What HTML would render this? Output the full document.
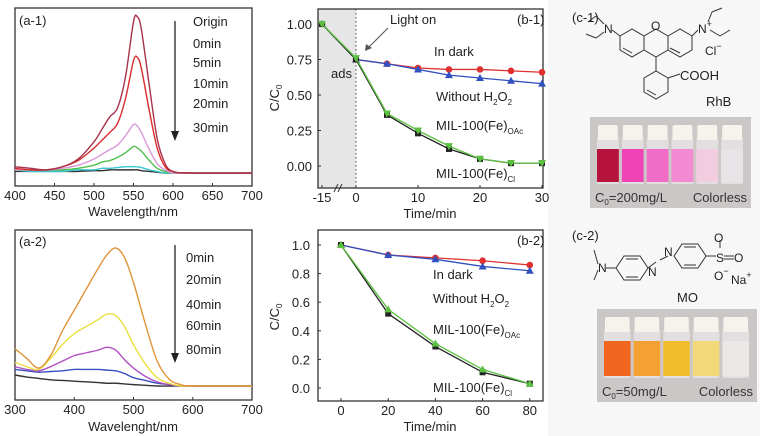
<!DOCTYPE html>
<html><head><meta charset="utf-8">
<style>
body{margin:0;background:#fff;}
svg{display:block;font-family:"Liberation Sans",Arial,sans-serif;}
</style></head>
<body>
<svg id="fig" width="770" height="436" viewBox="0 0 770 436" xmlns="http://www.w3.org/2000/svg">
<rect x="0" y="0" width="770" height="436" fill="#fff"/>
<rect x="548" y="0" width="212" height="436" fill="#f7f7f7"/>
<g id="a1"></g>
<g id="a2"></g>
<g id="b1"></g>
<g id="b2"></g>

<!-- c-1 RhB structure -->
<g fill="none" stroke="#333" stroke-width="1">
  <polygon points="620,36 632,29 644,36 644,50 632,57 620,50"/>
  <polygon points="644,36 656,29 668,36 668,50 656,57 644,50"/>
  <polygon points="668,36 680,29 692,36 692,50 680,57 668,50"/>
  <line x1="623" y1="48" x2="632" y2="53"/><line x1="670" y1="48" x2="680" y2="53"/>
  <line x1="656" y1="57" x2="656" y2="71"/>
  <polygon points="644,78 656,71 668,78 668,92 656,99 644,92"/>
  <line x1="647" y1="90" x2="656" y2="95"/>
  <line x1="668" y1="78" x2="680" y2="74"/>
  <line x1="620" y1="36" x2="612" y2="30"/>
  <line x1="604" y1="24" x2="596" y2="16"/><line x1="596" y1="16" x2="588" y2="22"/>
  <line x1="604" y1="32" x2="596" y2="38"/><line x1="596" y1="38" x2="586" y2="34"/>
  <line x1="692" y1="36" x2="698" y2="30"/>
  <line x1="708" y1="22" x2="712" y2="12"/><line x1="712" y1="12" x2="722" y2="8"/>
  <line x1="710" y1="30" x2="720" y2="36"/><line x1="720" y1="36" x2="730" y2="30"/>
</g>
<text x="572" y="22" font-size="13" fill="#222">(c-1)</text>
<text x="604" y="33" font-size="12" fill="#222">N</text>
<text x="651" y="30" font-size="12" fill="#222">O</text>
<text x="698" y="33" font-size="12" fill="#222">N<tspan font-size="9" dy="-6">+</tspan></text>
<text x="705" y="55" font-size="12" fill="#222">Cl<tspan font-size="9" dy="-6">−</tspan></text>
<text x="680" y="80" font-size="13" fill="#222">COOH</text>
<text x="706" y="106" font-size="13" fill="#222">RhB</text>
<g id="photo1"></g>

<!-- c-2 MO structure -->
<text x="572" y="240" font-size="13" fill="#222">(c-2)</text>
<g fill="none" stroke="#333" stroke-width="1">
  <line x1="594" y1="250" x2="598" y2="264"/><line x1="594" y1="280" x2="598" y2="270"/>
  <line x1="606" y1="268" x2="616" y2="268"/>
  <polygon points="616,268 624,256 640,256 648,268 640,280 624,280"/>
  <line x1="626" y1="259" x2="638" y2="259"/><line x1="626" y1="277" x2="638" y2="277"/>
  <line x1="648" y1="268" x2="656" y2="262"/>
  <line x1="660" y1="260" x2="668" y2="256"/>
  <polygon points="674,256 682,244 698,244 706,256 698,268 682,268"/>
  <line x1="684" y1="247" x2="696" y2="247"/><line x1="684" y1="265" x2="696" y2="265"/>
  <line x1="706" y1="256" x2="716" y2="256"/>
  <line x1="724" y1="256" x2="734" y2="256"/><line x1="724" y1="259" x2="734" y2="259"/>
  <line x1="720" y1="248" x2="720" y2="240"/>
</g>
<text x="598" y="272" font-size="12" fill="#222">N</text>
<text x="648" y="276" font-size="12" fill="#222">N</text>
<text x="664" y="256" font-size="12" fill="#222">N</text>
<text x="716" y="262" font-size="12" fill="#222">S</text>
<text x="714" y="242" font-size="12" fill="#222">O</text>
<text x="734" y="262" font-size="12" fill="#222">O</text>
<text x="714" y="280" font-size="12" fill="#222">O<tspan font-size="9" dy="-6">−</tspan></text>
<text x="731" y="284" font-size="12" fill="#222">Na<tspan font-size="9" dy="-6">+</tspan></text>
<text x="677" y="302" font-size="13" fill="#222">MO</text>
<g id="photo2"></g>
</svg>
<script>
// ===== data =====
const a1Wl = [400,420,440,460,480,500,510,520,530,540,550,555,560,570,580,590,600,620,700];
const a1Origin = [0.04,0.03,0.02,0.04,0.09,0.20,0.28,0.36,0.42,0.62,0.97,1.00,0.92,0.56,0.22,0.06,0.01,0,0];
const a1_0min = [0.03,0.02,0.02,0.04,0.08,0.16,0.21,0.26,0.32,0.48,0.72,0.74,0.67,0.40,0.16,0.04,0.01,0,0];
const a1_5min = [0.02,0.02,0.02,0.03,0.05,0.09,0.12,0.15,0.18,0.24,0.31,0.30,0.26,0.15,0.06,0.02,0,0,0];
const a1_10min = [0.02,0.02,0.02,0.02,0.03,0.05,0.07,0.08,0.10,0.13,0.17,0.16,0.14,0.08,0.03,0.01,0,0,0];
const a1_20min = [0.02,0.01,0.01,0.01,0.02,0.02,0.03,0.03,0.035,0.04,0.04,0.04,0.035,0.02,0.01,0,0,0,0];
const a1_30min = [0.01,0.01,0.01,0.01,0.01,0.015,0.015,0.02,0.02,0.02,0.02,0.02,0.015,0.01,0.005,0,0,0,0];
const a1Colors = ['#a8324a','#d92b2b','#d898d8','#4cbf4c','#3cc8d0','#333'];
const a1Labels = ['Origin','0min','5min','10min','20min','30min'];

const a2Wl = [300,320,340,360,380,400,420,440,455,470,485,500,520,540,560,580,600,700];
const a2_0min = [0.27,0.20,0.13,0.22,0.40,0.55,0.70,0.85,0.95,1.00,0.93,0.75,0.45,0.18,0.05,0.01,0,0];
const a2_20min = [0.17,0.14,0.12,0.20,0.30,0.38,0.43,0.48,0.52,0.51,0.43,0.30,0.16,0.06,0.02,0,0,0];
const a2_40min = [0.14,0.12,0.11,0.14,0.18,0.22,0.24,0.26,0.28,0.26,0.19,0.13,0.07,0.03,0.01,0,0,0];
const a2_60min = [0.12,0.11,0.10,0.105,0.11,0.12,0.12,0.12,0.115,0.11,0.09,0.06,0.04,0.02,0.01,0,0,0];
const a2_80min = [0.08,0.065,0.055,0.045,0.04,0.035,0.03,0.025,0.02,0.02,0.015,0.01,0.005,0,0,0,0,0];
const a2Colors = ['#e0943a','#e8e040','#b050c0','#3a50c0','#333'];
const a2Labels = ['0min','20min','40min','60min','80min'];

const b1Time = [-15,0,5,10,15,20,25,30];
const b1Dark = [1.00,0.75,0.72,0.69,0.68,0.68,0.67,0.66];
const b1NoH2O2 = [1.00,0.75,0.72,0.68,0.64,0.62,0.60,0.58];
const b1OAc = [1.00,0.76,0.37,0.25,0.14,0.05,0.02,0.02];
const b1Cl = [1.00,0.75,0.36,0.23,0.12,0.05,0.02,0.02];
const b1XTicks = [-15,0,10,20,30];
const b1YTicks = ['0.00','0.25','0.50','0.75','1.00'];

const b2Time = [0,20,40,60,80];
const b2Dark = [1.00,0.93,0.91,0.89,0.86];
const b2NoH2O2 = [1.00,0.93,0.90,0.85,0.82];
const b2OAc = [1.00,0.55,0.31,0.13,0.03];
const b2Cl = [1.00,0.52,0.29,0.11,0.03];
const b2XTicks = [0,20,40,60,80];
const b2YTicks = ['0.0','0.2','0.4','0.6','0.8','1.0'];

const vials1 = ['#b5123c','#ef44b6','#f06cc6','#f18ad0','#f2cde0','#e6e4e6'];
const vials2 = ['#f0661e','#f5a032','#f0bc2c','#f2d878','#eae8e4'];

// ===== helpers =====
const NS='http://www.w3.org/2000/svg';
function mk(tag, attrs, parent){const e=document.createElementNS(NS,tag);for(const k in attrs)e.setAttribute(k,attrs[k]);parent.appendChild(e);return e;}
function txt(parent,x,y,s,size,anchor){const t=mk('text',{x:x,y:y,'font-size':size||13,fill:'#222','text-anchor':anchor||'start'},parent);t.textContent=s;return t;}
function smooth(pts){let d='M'+pts[0][0]+','+pts[0][1];for(let i=0;i<pts.length-1;i++){const p0=pts[Math.max(0,i-1)],p1=pts[i],p2=pts[i+1],p3=pts[Math.min(pts.length-1,i+2)];const c1x=p1[0]+(p2[0]-p0[0])/6,c1y=p1[1]+(p2[1]-p0[1])/6,c2x=p2[0]-(p3[0]-p1[0])/6,c2y=p2[1]-(p3[1]-p1[1])/6;d+=' C'+c1x+','+c1y+' '+c2x+','+c2y+' '+p2[0]+','+p2[1];}return d;}
function frame(g,x0,y0,x1,y1){const r=mk('rect',{x:x0,y:y0,width:x1-x0,height:y1-y0,fill:'none',stroke:'#333','stroke-width':1.3},g);}
function marker(g,shape,x,y,color){let e;
 if(shape==='circle')e=mk('circle',{cx:x,cy:y,r:3.3,fill:color},g);
 else if(shape==='tri')e=mk('polygon',{points:(x)+','+(y-4)+' '+(x+4)+','+(y+3)+' '+(x-4)+','+(y+3),fill:color},g);
 else if(shape==='tridown')e=mk('polygon',{points:(x-4)+','+(y-3)+' '+(x+4)+','+(y-3)+' '+(x)+','+(y+4),fill:color},g);
 else e=mk('rect',{x:x-3,y:y-3,width:6,height:6,fill:color},g);
 }

// ===== panel a-1 =====
(function(){const g=document.getElementById('a1');
 const X0=15,X1=252,Y0=8,Y1=186,base=173,amp=156;
 const xs=w=>X0+(w-400)/300*(X1-X0), ys=a=>base-a*amp;
 frame(g,X0,Y0,X1,Y1);
 const series=[a1Origin,a1_0min,a1_5min,a1_10min,a1_20min,a1_30min];
 for(let s=series.length-1;s>=0;s--){const p=mk('path',{d:smooth(a1Wl.map((w,i)=>[xs(w),ys(series[s][i])])),fill:'none',stroke:a1Colors[s],'stroke-width':1.4},g);
  }
 [400,450,500,550,600,650,700].forEach(v=>{mk('line',{x1:xs(v),y1:Y1,x2:xs(v),y2:Y1-3,stroke:'#333'},g);const t=txt(g,xs(v),200,String(v),13,'middle');});
 const tt=txt(g,133,216,'Wavelength/nm',13,'middle');
 txt(g,19,25,'(a-1)',13);
 const ly=[26,48,67,88,108,132];a1Labels.forEach((l,i)=>{const t=txt(g,193,ly[i],l,13);});
 mk('line',{x1:175,y1:21,x2:175,y2:132,stroke:'#222','stroke-width':1.3},g);
 mk('polygon',{points:'171,131 179,131 175,141',fill:'#222'},g);
})();

// ===== panel a-2 =====
(function(){const g=document.getElementById('a2');
 const X0=15,X1=252,Y0=230,Y1=400,base=386,amp=138;
 const xs=w=>X0+(w-300)/400*(X1-X0), ys=a=>base-a*amp;
 frame(g,X0,Y0,X1,Y1);
 const series=[a2_0min,a2_20min,a2_40min,a2_60min,a2_80min];
 for(let s=series.length-1;s>=0;s--){const p=mk('path',{d:smooth(a2Wl.map((w,i)=>[xs(w),ys(series[s][i])])),fill:'none',stroke:a2Colors[s],'stroke-width':1.4},g);
  }
 [300,400,500,600,700].forEach(v=>{mk('line',{x1:xs(v),y1:Y1,x2:xs(v),y2:Y1-3,stroke:'#333'},g);const t=txt(g,xs(v),414,String(v),13,'middle');});
 const tt=txt(g,133,431,'Wavelenght/nm',13,'middle');
 txt(g,19,246,'(a-2)',13);
 const ly=[262,284,309,330,354];a2Labels.forEach((l,i)=>{const t=txt(g,186,ly[i],l,13);});
 mk('line',{x1:175,y1:245,x2:175,y2:354,stroke:'#222','stroke-width':1.3},g);
 mk('polygon',{points:'171,353 179,353 175,363',fill:'#222'},g);
})();

function sub(g,x,y,main,subtxt){const t=mk('text',{x:x,y:y,'font-size':13,fill:'#222'},g);t.appendChild(document.createTextNode(main));const s=mk('tspan',{'font-size':8,dy:4},t);s.textContent=subtxt;return t;}

// ===== panel b-1 =====
(function(){const g=document.getElementById('b1');
 const X0=318,X1=543,Y0=9,Y1=188;
 const xs=t=>t<0?322+34*(t+15)/15:356+t*6.2;
 const ys=v=>166-v*142;
 mk('rect',{x:X0,y:Y0,width:356-X0,height:Y1-Y0,fill:'#e6e6e6'},g);
 mk('line',{x1:356,y1:Y0,x2:356,y2:Y1,stroke:'#444','stroke-dasharray':'1.5,2.5'},g);
 frame(g,X0,Y0,X1,Y1);
 b1XTicks.forEach(v=>{mk('line',{x1:xs(v),y1:Y1,x2:xs(v),y2:Y1-3,stroke:'#333'},g);const t=txt(g,xs(v),202,String(v),13,'middle');});
 mk('line',{x1:334,y1:192,x2:338,y2:184,stroke:'#333'},g);mk('line',{x1:338,y1:192,x2:342,y2:184,stroke:'#333'},g);
 b1YTicks.forEach(s=>{const v=parseFloat(s);mk('line',{x1:X0,y1:ys(v),x2:X0+3,y2:ys(v),stroke:'#333'},g);const t=txt(g,312,ys(v)+5,s,13,'end');});
 const yt=mk('text',{x:0,y:0,'font-size':13,fill:'#222','text-anchor':'middle',transform:'translate(279,98) rotate(-90)'},g);yt.appendChild(document.createTextNode('C/C'));const ts=mk('tspan',{'font-size':8,dy:3},yt);ts.textContent='0';
 
 const xt=txt(g,430,218,'Time/min',13,'middle');
 const S=[[b1Dark,'#e03030','circle'],[b1NoH2O2,'#3050c0','tri'],[b1Cl,'#222','sq'],[b1OAc,'#5cc040','tridown']];
 S.forEach(([d,c,sh])=>{const l=mk('polyline',{points:b1Time.map((t,i)=>xs(t)+','+ys(d[i])).join(' '),fill:'none',stroke:c,'stroke-width':1.3},g);
  b1Time.forEach((t,i)=>marker(g,sh,xs(t),ys(d[i]),c));});
 txt(g,390,24,'Light on',13);
 mk('line',{x1:388,y1:28,x2:368,y2:48,stroke:'#555'},g);mk('polygon',{points:'365,51 366,44 372,48',fill:'#555'},g);
 txt(g,331,78,'ads',13);
 txt(g,517,24,'(b-1)',13);
 txt(g,434,56,'In dark',13);
 const t=sub(g,436,101,'Without H','2');const o=mk('tspan',{'font-size':13,dy:-4},t);o.textContent='O';const s2=mk('tspan',{'font-size':8,dy:4},t);s2.textContent='2';
 sub(g,436,130,'MIL-100(Fe)','OAc');
 sub(g,436,178,'MIL-100(Fe)','Cl');
})();

// ===== panel b-2 =====
(function(){const g=document.getElementById('b2');
 const X0=318,X1=543,Y0=230,Y1=401;
 const xs=t=>341+t*2.36, ys=v=>388-v*143;
 frame(g,X0,Y0,X1,Y1);
 b2XTicks.forEach(v=>{mk('line',{x1:xs(v),y1:Y1,x2:xs(v),y2:Y1-3,stroke:'#333'},g);const t=txt(g,xs(v),415,String(v),13,'middle');});
 b2YTicks.forEach(s=>{const v=parseFloat(s);mk('line',{x1:X0,y1:ys(v),x2:X0+3,y2:ys(v),stroke:'#333'},g);const t=txt(g,310,ys(v)+5,s,13,'end');});
 const yt=mk('text',{x:0,y:0,'font-size':13,fill:'#222','text-anchor':'middle',transform:'translate(279,317) rotate(-90)'},g);yt.appendChild(document.createTextNode('C/C'));const ts=mk('tspan',{'font-size':8,dy:3},yt);ts.textContent='0';
 
 const xt=txt(g,430,431,'Time/min',13,'middle');
 const S=[[b2Dark,'#e03030','circle'],[b2NoH2O2,'#3050c0','tri'],[b2Cl,'#222','sq'],[b2OAc,'#5cc040','tri']];
 S.forEach(([d,c,sh])=>{const l=mk('polyline',{points:b2Time.map((t,i)=>xs(t)+','+ys(d[i])).join(' '),fill:'none',stroke:c,'stroke-width':1.3},g);
  b2Time.forEach((t,i)=>marker(g,sh,xs(t),ys(d[i]),c));});
 txt(g,517,245,'(b-2)',13);
 txt(g,433,279,'In dark',13);
 const t=sub(g,433,303,'Without H','2');const o=mk('tspan',{'font-size':13,dy:-4},t);o.textContent='O';const s2=mk('tspan',{'font-size':8,dy:4},t);s2.textContent='2';
 sub(g,433,334,'MIL-100(Fe)','OAc');
 sub(g,433,392,'MIL-100(Fe)','Cl');
})();

// ===== photos =====
function photo(id,x0,y0,w,h,cols,label){const g=document.getElementById(id);
 mk('rect',{x:x0,y:y0,width:w,height:h,fill:'#cbc7c6'},g);
 const n=cols.length,vw=(w-12)/n;
 cols.forEach((c,i)=>{const x=x0+6+i*vw;
  const v=mk('rect',{x:x+1,y:y0+20,width:vw-3,height:h-44,fill:'#e2dfe0',rx:2},g);
  mk('rect',{x:x+1,y:y0+32,width:vw-3,height:h-58,fill:c},g);
  mk('rect',{x:x+2,y:y0+8,width:vw-5,height:15,fill:'#f6f3ec',rx:2},g);});
 const t=mk('text',{x:x0+5,y:y0+h-6,'font-size':13,fill:'#333'},g);t.appendChild(document.createTextNode('C'));const s=mk('tspan',{'font-size':8,dy:3},t);s.textContent='0';const r=mk('tspan',{dy:-3},t);r.textContent=label;
 const c=mk('text',{x:x0+w-4,y:y0+h-6,'font-size':13,fill:'#333','text-anchor':'end'},g);c.textContent='Colorless';}
photo('photo1',590,117,161,91,vials1,'=200mg/L');
photo('photo2',597,309,160,93,vials2,'=50mg/L');
</script>
</body></html>
